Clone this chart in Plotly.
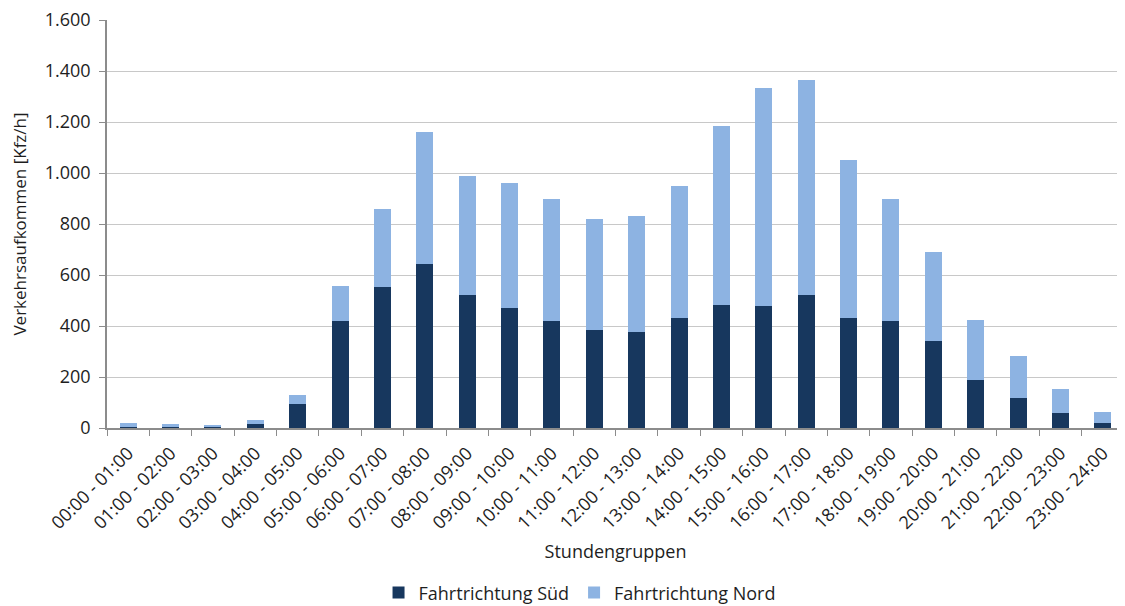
import plotly.graph_objects as go

categories = ["00:00 - 01:00", "01:00 - 02:00", "02:00 - 03:00", "03:00 - 04:00",
              "04:00 - 05:00", "05:00 - 06:00", "06:00 - 07:00", "07:00 - 08:00",
              "08:00 - 09:00", "09:00 - 10:00", "10:00 - 11:00", "11:00 - 12:00",
              "12:00 - 13:00", "13:00 - 14:00", "14:00 - 15:00", "15:00 - 16:00",
              "16:00 - 17:00", "17:00 - 18:00", "18:00 - 19:00", "19:00 - 20:00",
              "20:00 - 21:00", "21:00 - 22:00", "22:00 - 23:00", "23:00 - 24:00"]
sued = [3, 4, 7, 16, 93, 418, 553, 643, 521, 472, 418, 384,
        378, 433, 482, 478, 520, 433, 421, 340, 190, 118, 60, 20]
nord = [17, 12, 4, 14, 37, 139, 305, 517, 467, 488, 480, 436,
        455, 517, 701, 857, 845, 619, 479, 350, 235, 165, 92, 42]
y_ticks = [0, 200, 400, 600, 800, 1000, 1200, 1400, 1600]
y_tick_labels = ["0", "200", "400", "600", "800", "1.000", "1.200", "1.400", "1.600"]

font_family = "Open Sans, sans-serif"
text_color = "#1e1e1e"

fig = go.Figure()
fig.add_bar(x=categories, y=sued, name="Fahrtrichtung Süd", marker_color="#17375e",
            marker_line_width=0)
fig.add_bar(x=categories, y=nord, name="Fahrtrichtung Nord", marker_color="#8db3e2",
            marker_line_width=0)

fig.update_layout(
    barmode="stack",
    bargap=0.6,
    width=1117, height=598,
    margin=dict(l=99, r=1, t=12, b=178, autoexpand=False),
    plot_bgcolor="white", paper_bgcolor="white",
    font=dict(family=font_family, size=18, color=text_color),
    legend=dict(orientation="h", x=0.267, xanchor="left", y=-0.404, yanchor="middle",
                font=dict(size=18), traceorder="normal", itemwidth=30),
    showlegend=True,
)
fig.update_xaxes(
    automargin=False,
    tickangle=-45, showline=True, linecolor="#8c8c8c", linewidth=1.5,
    ticks="outside", tickson="boundaries", ticklen=6, tickcolor="#8c8c8c",
    tickfont=dict(size=18), ticklabelstandoff=6,
    title=dict(text="Stundengruppen", font=dict(size=18), standoff=13),
)
fig.update_yaxes(
    automargin=False,
    range=[0, 1600], tickvals=y_ticks, ticktext=y_tick_labels,
    ticklabeloverflow="allow",
    showline=True, linecolor="#8c8c8c", linewidth=1.5,
    ticks="outside", ticklen=6, tickcolor="#8c8c8c",
    gridcolor="#c8c8c8", gridwidth=1, zeroline=False,
    tickfont=dict(size=18), ticklabelstandoff=5,
    title=dict(text="Verkehrsaufkommen [Kfz/h]", font=dict(size=17), standoff=16),
)

fig.write_html("out.html")
